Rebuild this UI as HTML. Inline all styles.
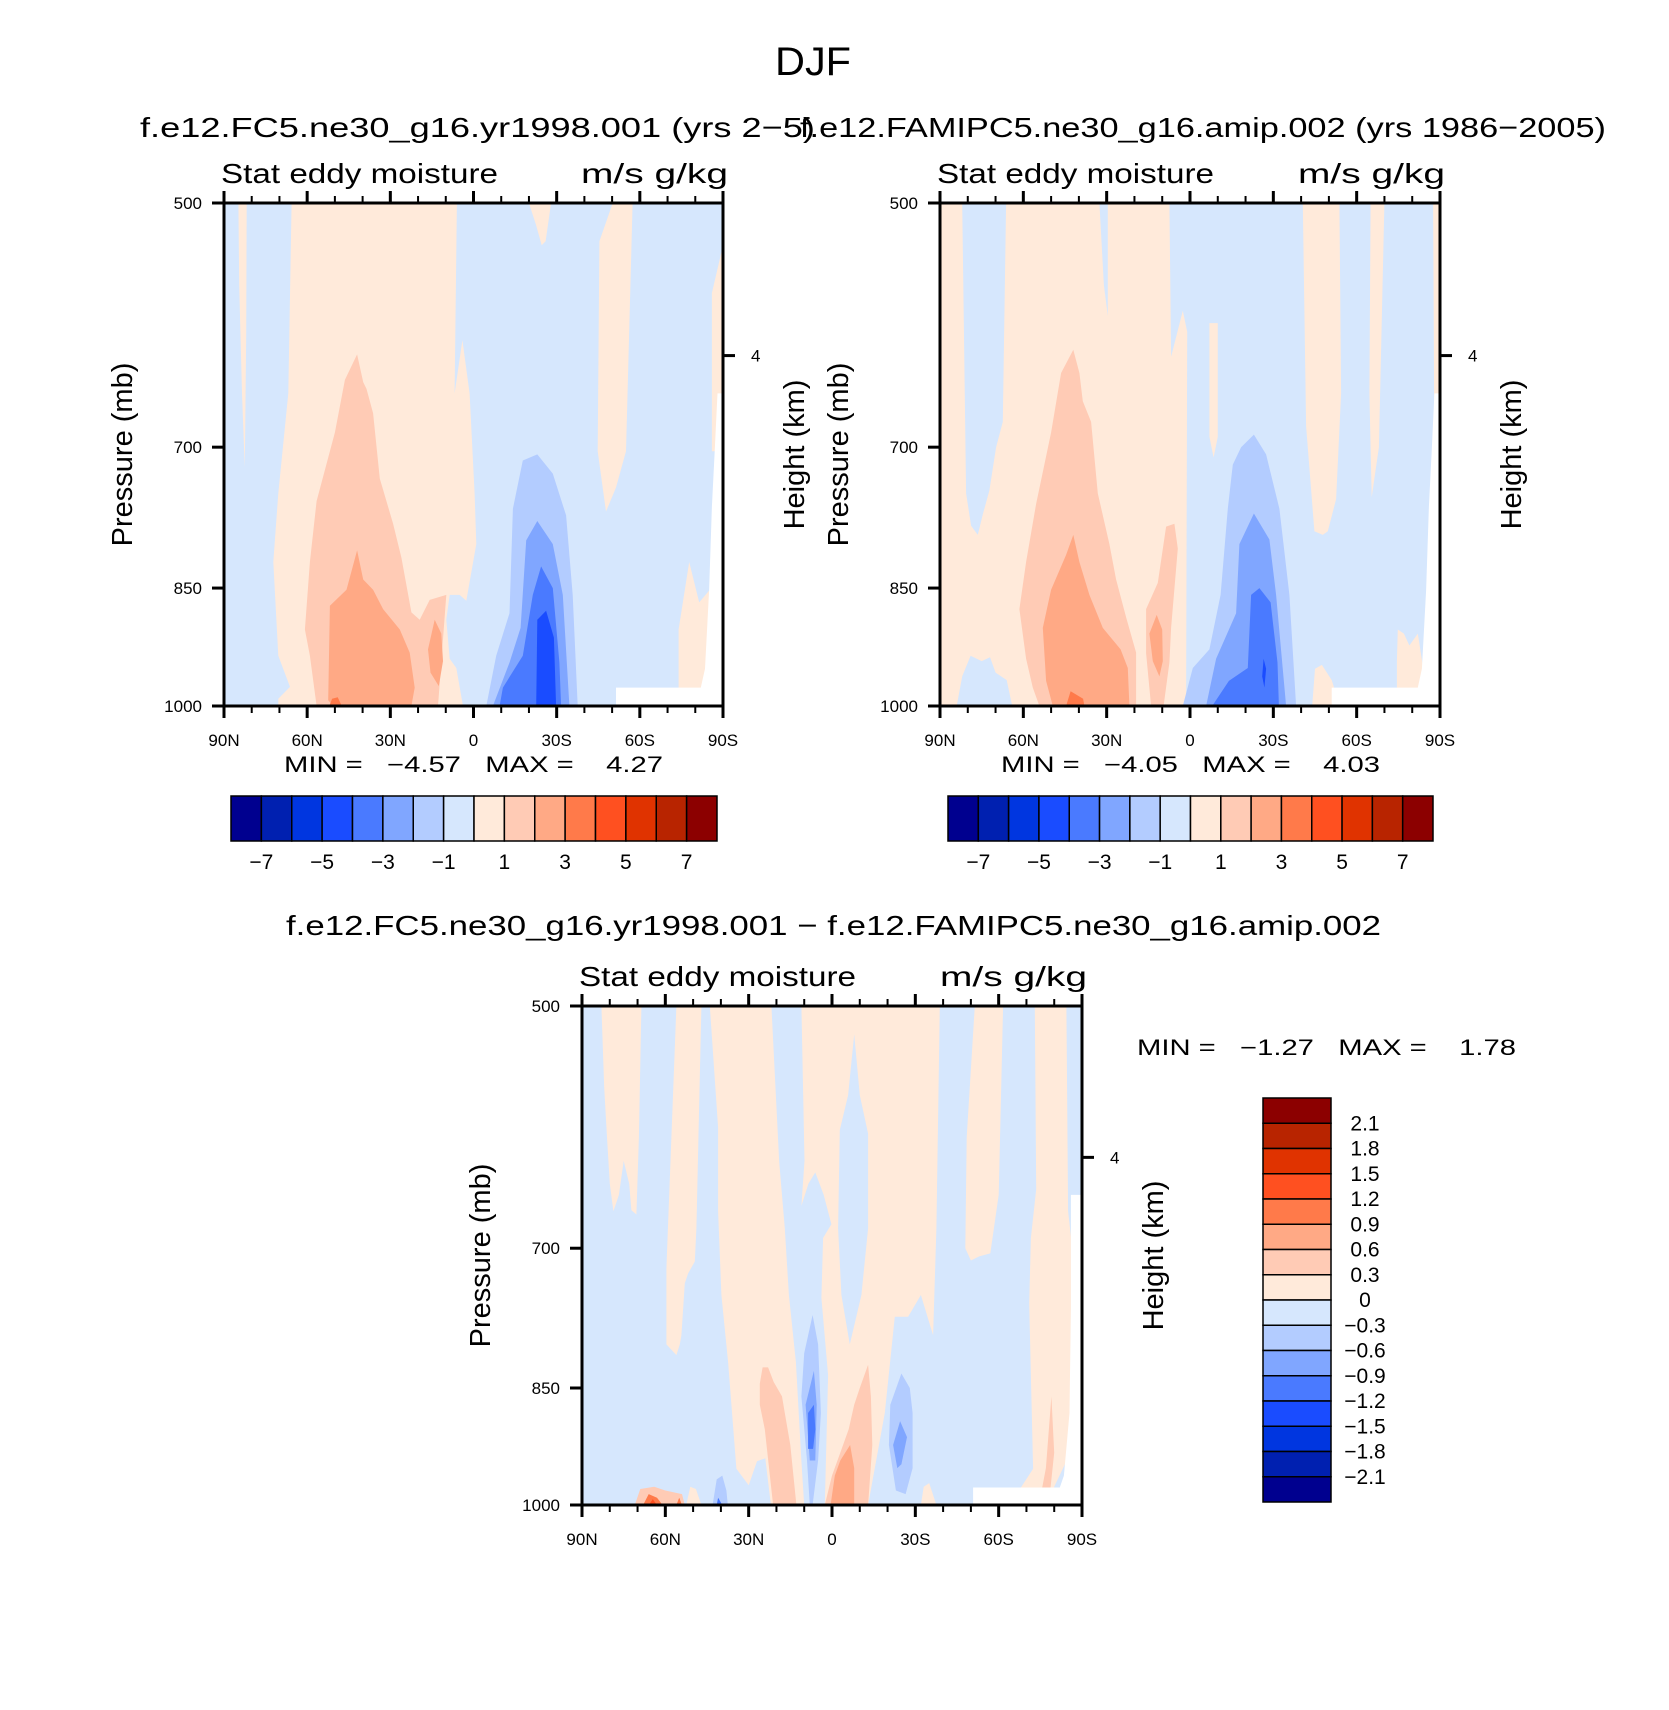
<!DOCTYPE html>
<html><head><meta charset="utf-8">
<style>
html,body{margin:0;padding:0;background:#fff;}
svg{display:block;font-family:"Liberation Sans",sans-serif;}
</style></head>
<body>
<svg id="chart" width="1669" height="1710" viewBox="0 0 1669 1710" xmlns="http://www.w3.org/2000/svg">
<text x="813" y="75" font-size="40" text-anchor="middle" textLength="76" lengthAdjust="spacingAndGlyphs">DJF</text>
<text x="140" y="137" font-size="28" textLength="675" lengthAdjust="spacingAndGlyphs">f.e12.FC5.ne30_g16.yr1998.001 (yrs 2−5)</text>
<text x="800" y="137" font-size="28" textLength="806" lengthAdjust="spacingAndGlyphs">f.e12.FAMIPC5.ne30_g16.amip.002 (yrs 1986−2005)</text>
<text x="286" y="935" font-size="28" textLength="1095" lengthAdjust="spacingAndGlyphs">f.e12.FC5.ne30_g16.yr1998.001 − f.e12.FAMIPC5.ne30_g16.amip.002</text>
<g id="layer"></g>
</svg>
<script>
const NS='http://www.w3.org/2000/svg';
const palette=['#00008f','#0020b0','#0036e0','#1a4cff','#4a7aff','#80a6ff','#b3ccff','#d6e7fd','#ffeada','#ffcbb5','#ffa985','#ff7a4a','#ff5020','#e03300','#b82400','#8c0000'];
const latTicks=[90,60,30,0,-30,-60,-90];
const latTickLabels=['90N','60N','30N','0','30S','60S','90S'];
const presTicks=[500,700,850,1000];
const heightTickP=[617];
const heightTickLabels=['4'];
const topBarLabels=['−7','−5','−3','−1','1','3','5','7'];
const diffBarLabels=['2.1','1.8','1.5','1.2','0.9','0.6','0.3','0','−0.3','−0.6','−0.9','−1.2','−1.5','−1.8','−2.1'];
const panel1Stats=['−4.57','4.27'];
const panel2Stats=['−4.05','4.03'];
const diffStats=['−1.27','1.78'];
const MISSING=-1;

const panel1Levels=[8,8,8,8,8,8,MISSING,9,10,10,11,6,5,4,3];
const panel1Shapes=[
[[65.6,500],[6,500],[6.8,650],[4,604],[1.4,650],[-0.4,746],[-1,800],[2.6,865],[5,858],[8.6,858],[9.8,888],[8.6,937],[6.2,949],[3.8,1000],[70.4,1000],[70.4,990],[66.2,974],[70.4,933],[72.2,820],[70.4,746],[66.8,650]],
[[84.8,500],[81.8,500],[82,600],[82.5,720],[83.5,650],[84.5,560]],
[[-20,500],[-28,500],[-26,527],[-24.6,530],[-22.5,515]],
[[-50.2,500],[-57.4,500],[-55,704],[-51.4,740],[-47.8,765],[-44.8,704],[-45.4,527]],
[[-86,566],[-90,530],[-90,704],[-86,704]],
[[-77.8,820],[-74,900],[-74,1000],[-85,1000],[-85,853],[-81.4,867]],
[[-88,650],[-90,650],[-90,1000],[-51.4,1000],[-51.4,975],[-82,975],[-83.5,950],[-85,853],[-86,760],[-87,704]],
[[42,616],[46.4,638],[50,686],[56.6,754],[59,820],[60.8,900],[59,933],[56.6,1000],[12.8,1000],[9.8,858],[15.8,864],[19.4,888],[22.4,879],[26,815],[29,778],[33.8,731],[36.2,668],[38.6,646],[39.8,640]],
[[42,807],[45.8,852],[51.8,871],[52.4,992],[50.6,1000],[22.4,1000],[21.2,975],[23,929],[26.6,900],[32.6,875],[36.2,852],[39.8,840]],
[[14,888],[11.6,905],[11,940],[12.5,973],[15.5,955],[16.4,925]],
[[51,990],[49,988],[47.5,1000],[52,1000]],
[[-23,707],[-17.8,713],[-14.2,762],[-13,880],[-8.2,933],[-4.6,1000],[-37.6,1000],[-35.8,858],[-33.4,769],[-28.6,726]],
[[-23,775],[-19,796],[-17,898],[-13,942],[-7,1000],[-34.6,1000],[-32.2,858],[-28.6,800]],
[[-24.4,825],[-21.4,858],[-17.8,933],[-10.6,975],[-9.4,1000],[-31.6,1000],[-31,942],[-28.6,850]],
[[-26.2,877],[-23,888],[-22.6,1000],[-29.8,1000],[-29,910]]
];

const panel2Levels=[8,7,7,7,8,8,8,8,8,8,MISSING,9,9,10,10,11,6,5,4,3];
const panel2Shapes=[
[[90,500],[7.4,500],[6.8,618],[2.6,580],[1,597],[1.4,1000],[90,1000]],
[[82,500],[80.6,746],[78.8,780],[76.4,790],[74.6,768],[72.2,743],[69.8,700],[67.4,676],[66.2,500]],
[[32.6,500],[29.6,500],[29.6,584],[31,560]],
[[84,1000],[82,960],[79,933],[75,940],[72,935],[70,955],[66,965],[64,1000]],
[[-7,590],[-10,590],[-10,690],[-8.5,710],[-7,690]],
[[-40.6,500],[-53.8,500],[-54.4,650],[-52.6,752],[-49.6,786],[-47.8,790],[-44.8,786],[-41.8,680]],
[[-65,500],[-70,500],[-68,700],[-65.4,750],[-64.6,650]],
[[-87.5,500],[-90,500],[-90,707],[-88,707]],
[[-44,1000],[-45,950],[-47.5,945],[-51,965],[-54,1000]],
[[-74.8,900],[-77,905],[-79,920],[-82,905],[-84,950],[-84,1000],[-74.5,1000],[-74.5,940]],
[[-88,650],[-90,650],[-90,1000],[-51,1000],[-51,975],[-82,975],[-83.5,950],[-85,853],[-86,760],[-87,704]],
[[42,612],[46.4,632],[50,686],[55.4,757],[59,820],[61.4,875],[59,937],[56.6,975],[54.2,1000],[19.4,1000],[19.4,929],[23,885],[26.6,840],[29,800],[33.2,746],[35.6,676],[38.6,657],[39.8,632]],
[[8.6,781],[5.6,778],[4.4,805],[6.8,898],[7.4,942],[9.5,1000],[14,1000],[15.8,930],[15.8,875],[11.6,844]],
[[42,790],[44.6,812],[50,852],[53,898],[51.8,966],[49.4,1000],[21.8,1000],[22.4,949],[25,925],[31.4,898],[36.2,858],[39.8,820]],
[[12,882],[10,900],[9.8,940],[11,960],[13.4,940],[14.6,905]],
[[43,980],[38.5,990],[38,1000],[44.6,1000]],
[[-23,688],[-18.4,700],[-15.4,717],[-13.6,762],[-11,858],[-7,925],[-1,949],[2.6,1000],[-38.2,1000],[-35.8,858],[-32.2,762],[-27.4,707]],
[[-23,767],[-17.8,800],[-16.6,880],[-9.4,937],[-5.8,1000],[-34.6,1000],[-31,858],[-28.6,795]],
[[-25,850],[-22,858],[-20.8,949],[-14,966],[-8,1000],[-32,1000],[-31.5,942],[-29,867]],
[[-26.5,937],[-26,960],[-26.8,975],[-27.4,950]]
];

const diffLevels=[8,8,8,8,7,9,9,10,6,5,4,6,5,8,8,9,8,9,11,12,11,8,6,4,MISSING];
const diffShapes=[
[[83,500],[68.6,500],[69.5,600],[70.4,668],[72.2,664],[73,640],[75,620],[76.7,650],[78.7,665],[80,640],[81,600],[82,560]],
[[56,500],[47,500],[48.8,681],[49.4,713],[51.8,725],[53,735],[54.2,790],[54.8,800],[56,812],[59.6,800],[59.6,720],[57.8,600]],
[[44,500],[41,592],[41,665],[39.8,747],[37.4,820],[34.4,951],[30,973],[27,941],[24,937],[22,1000],[10,1000],[11,941],[13,820],[15.5,747],[17,681],[19,621],[21.8,500]],
[[11,500],[9.9,620],[11,660],[8.5,640],[6,630],[3,650],[0.2,677],[3.2,690],[3.8,750],[1.4,835],[2.6,1000],[-13,1000],[-19,880],[-22.6,770],[-27.4,770],[-32,747],[-36.4,790],[-37.6,681],[-38.8,500]],
[[-8,520],[-10,566],[-13,597],[-13,681],[-10.6,747],[-6.4,800],[-3.4,747],[-2.2,681],[-2.8,594],[-5.8,566]],
[[25,826],[26,845],[26,870],[24.2,900],[21.2,1000],[12.8,1000],[15,920],[17,880],[18,860],[21,843],[23,826]],
[[-13,823],[-14,860],[-14.5,920],[-13,1000],[2.6,1000],[0,960],[-3,930],[-6,900],[-8,870],[-10,850]],
[[-6.5,920],[-8,950],[-8,1000],[0.5,1000],[-1,960],[-3,940]],
[[7,768],[5,800],[4,880],[5,940],[7,1000],[8,1000],[9,940],[11,860],[10,810]],
[[6.5,830],[5.5,870],[6,940],[8,940],[9.5,870]],
[[6.5,870],[6,900],[6.8,925],[8.6,925],[8.6,880]],
[[-25,833],[-21,870],[-20.5,920],[-23,980],[-26.5,985],[-29,950],[-29,880],[-28,850]],
[[-24.5,890],[-22,920],[-23.5,950],[-25,945],[-27,910]],
[[-51.4,500],[-61.6,500],[-60,650],[-57,705],[-53,708],[-50,712],[-48,700],[-48.5,600]],
[[-73,500],[-84.4,500],[-85,665],[-86.8,707],[-86,860],[-84.5,940],[-80,975],[-78,1000],[-68,1000],[-68,976],[-72.4,951],[-71,756],[-71.6,690],[-73.5,645]],
[[-79,860],[-77,950],[-74.5,1000],[-78,1000],[-80,930]],
[[-32,1000],[-33,975],[-35,970],[-37.6,1000]],
[[71,1000],[69,978],[64,975],[60,980],[54,985],[53,1000]],
[[68,1000],[66,985],[63,990],[61,1000]],
[[66,1000],[64.5,992],[63,1000]],
[[56,1000],[55,990],[54,1000]],
[[52.5,1000],[51,975],[49,978],[47,1000]],
[[43,1000],[41.5,965],[39.5,960],[38,980],[37.5,1000]],
[[41.5,1000],[41,990],[39.5,1000]],
[[-86,650],[-90,650],[-90,1000],[-50.8,1000],[-50.8,976],[-82,976],[-83.5,960],[-85.5,880],[-86,760]]
];

const layer=document.getElementById('layer');
function mk(tag,attrs,parent){const e=document.createElementNS(NS,tag);for(const k in attrs)e.setAttribute(k,attrs[k]);(parent||layer).appendChild(e);return e;}
function txt(s,attrs,parent){const e=mk('text',attrs,parent);e.textContent=s;return e;}

function drawPanel(name,box,levels,shapes,stats){
  const g=mk('g',{});
  
  
  const xS=lat=>box.x0+(90-lat)/180*(box.x1-box.x0);
  const yS=p=>box.y0+Math.log(p/500)/Math.log(2)*(box.y1-box.y0);
  const bg=mk('rect',{x:box.x0,y:box.y0,width:box.x1-box.x0,height:box.y1-box.y0,fill:palette[7]},g);
  
  
  shapes.forEach((pts,i)=>{
    const lv=levels[i];
    const poly=mk('polygon',{points:pts.map(q=>xS(q[0]).toFixed(1)+','+yS(q[1]).toFixed(1)).join(' '),fill:lv===MISSING?'#ffffff':palette[lv]},g);
    
    
  });
  const fr=mk('rect',{x:box.x0,y:box.y0,width:box.x1-box.x0,height:box.y1-box.y0,fill:'none',stroke:'#000','stroke-width':3},g);
  
  
  for(let lat=90;lat>=-90;lat-=10){
    const major=lat%30===0;const L=major?12:7;const x=xS(lat);
    mk('line',{x1:x,x2:x,y1:box.y0,y2:box.y0-L,stroke:'#000','stroke-width':major?3:2},g);
    mk('line',{x1:x,x2:x,y1:box.y1,y2:box.y1+L,stroke:'#000','stroke-width':major?3:2},g);
  }
  latTicks.forEach((lat,i)=>{
    const t=txt(latTickLabels[i],{x:xS(lat),y:box.y1+40,'font-size':17,'text-anchor':'middle'},g);
    
    
  });
  presTicks.forEach(p=>{
    const y=yS(p);
    mk('line',{x1:box.x0-12,x2:box.x0,y1:y,y2:y,stroke:'#000','stroke-width':3},g);
    const t=txt(String(p),{x:box.x0-22,y:y+6,'font-size':17,'text-anchor':'end'},g);
    
    
  });
  heightTickP.forEach((p,i)=>{
    const y=yS(p);
    mk('line',{x1:box.x1,x2:box.x1+12,y1:y,y2:y,stroke:'#000','stroke-width':3},g);
    const t=txt(heightTickLabels[i],{x:box.x1+28,y:y+6,'font-size':17},g);
    
    
  });
  const cy=(box.y0+box.y1)/2+(box.y1-box.y0)*0.5*0.0;
  const yl=txt('Pressure (mb)',{x:0,y:0,'font-size':29,'text-anchor':'middle',transform:`translate(${box.x0-92},${cy}) rotate(-90)`},g);
  
  
  const hl=txt('Height (km)',{x:0,y:0,'font-size':29,'text-anchor':'middle',transform:`translate(${box.x1+81},${cy}) rotate(-90)`},g);
  
  
  const s1=txt('Stat eddy moisture',{x:box.x0-3,y:box.y0-20,'font-size':28,textLength:277,lengthAdjust:'spacingAndGlyphs'},g);
  
  
  const s2=txt('m/s g/kg',{x:box.x1+5,y:box.y0-20,'font-size':28,'text-anchor':'end',textLength:147,lengthAdjust:'spacingAndGlyphs'},g);
  
  
  return {xS,yS};
}

function statText(stats,x,y,name){
  const t=txt('MIN =   '+stats[0]+'   MAX =    '+stats[1],{x:x,y:y,'font-size':22,textLength:379,lengthAdjust:'spacingAndGlyphs','xml:space':'preserve'});
  
  
  t.style.whiteSpace='pre';
}

function hBar(x0,x1,y0,y1,name){
  const g=mk('g',{});
  
  
  const w=(x1-x0)/palette.length;
  palette.forEach((c,i)=>{
    const r=mk('rect',{x:x0+i*w,y:y0,width:w,height:y1-y0,fill:c,stroke:'#000','stroke-width':1.5},g);
    
    
  });
  topBarLabels.forEach((s,i)=>{
    const t=txt(s,{x:x0+(2*i+1)*w,y:y1+28,'font-size':21,'text-anchor':'middle'},g);
    
    
  });
}

function vBar(x0,x1,y0,y1,name){
  const g=mk('g',{});
  
  
  const h=(y1-y0)/palette.length;
  palette.slice().reverse().forEach((c,i)=>{
    const r=mk('rect',{x:x0,y:y0+i*h,width:x1-x0,height:h,fill:c,stroke:'#000','stroke-width':1.5},g);
    
    
  });
  diffBarLabels.forEach((s,i)=>{
    const t=txt(s,{x:x1+34,y:y0+(i+1)*h+7,'font-size':21,'text-anchor':'middle'},g);
    
    
  });
}

drawPanel('panel-fc5',{x0:224,x1:723,y0:203,y1:706},panel1Levels,panel1Shapes);
drawPanel('panel-famipc5',{x0:940,x1:1440,y0:203,y1:706},panel2Levels,panel2Shapes);
drawPanel('panel-difference',{x0:582,x1:1082,y0:1006,y1:1505},diffLevels,diffShapes);
statText(panel1Stats,284,772,'panel1-min-max');
statText(panel2Stats,1001,772,'panel2-min-max');
statText(diffStats,1137,1055,'difference-min-max');
hBar(231,717,796,841,'panel1-colorbar');
hBar(948,1433,796,841,'panel2-colorbar');
vBar(1263,1331,1098,1502,'difference-colorbar');
</script>
</body></html>
